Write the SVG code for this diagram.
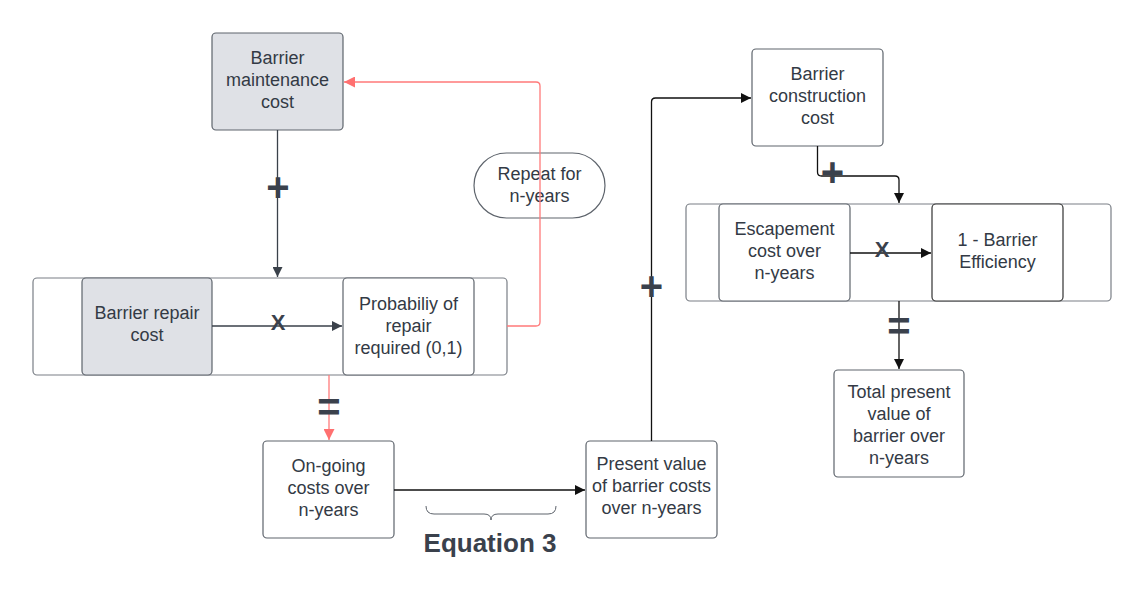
<svg xmlns="http://www.w3.org/2000/svg" width="1145" height="604" viewBox="0 0 1145 604">
<style>
.box{fill:#ffffff;stroke:#5e646c;stroke-width:1.2}
.gray{fill:#dfe1e6;stroke:#5e646c;stroke-width:1.2}
.lane{fill:#ffffff;stroke:#7a7f86;stroke-width:1.2}
.t{font-family:"Liberation Sans",Arial,sans-serif;font-size:18px;fill:#333a45;text-anchor:middle}
.op{font-family:"Liberation Sans",Arial,sans-serif;font-weight:bold;fill:#3a414c;text-anchor:middle}
.c{fill:none;stroke:#3a414a;stroke-width:1.3}
.k{fill:none;stroke:#111111;stroke-width:1.3}
.r{fill:none;stroke:#ff7a7a;stroke-width:1.3}
</style>
<defs>
<marker id="ad" viewBox="0 0 10 10" refX="10" refY="5" markerWidth="10" markerHeight="10" markerUnits="userSpaceOnUse" orient="auto"><path d="M0,0 L10,5 L0,10 z" fill="#3a414a"/></marker>
<marker id="ak" viewBox="0 0 10 10" refX="10" refY="5" markerWidth="10" markerHeight="10" markerUnits="userSpaceOnUse" orient="auto"><path d="M0,0 L10,5 L0,10 z" fill="#111111"/></marker>
<marker id="ar" viewBox="0 0 10 10" refX="10" refY="5" markerWidth="11" markerHeight="11" markerUnits="userSpaceOnUse" orient="auto"><path d="M0,0 L10,5 L0,10 z" fill="#ff7070"/></marker>
</defs>
<rect width="1145" height="604" fill="#ffffff"/>

<g id="lane1"><rect class="lane" x="33" y="278" width="474" height="97" rx="4"/></g>
<g id="lane2"><rect class="lane" x="686" y="204" width="425" height="97" rx="4"/></g>

<g id="n-maintenance"><rect class="gray" x="212" y="33" width="131" height="97" rx="4"/>
<text class="t" x="277.5" y="64">Barrier</text><text class="t" x="277.5" y="86">maintenance</text><text class="t" x="277.5" y="108">cost</text></g>

<g id="n-repair"><rect class="gray" x="82" y="278" width="130" height="97" rx="4"/>
<text class="t" x="147" y="319">Barrier repair</text><text class="t" x="147" y="341">cost</text></g>

<g id="n-prob"><rect class="box" x="343" y="278" width="131" height="97" rx="4"/>
<text class="t" x="408.5" y="310">Probabiliy of</text><text class="t" x="408.5" y="332">repair</text><text class="t" x="408.5" y="354">required (0,1)</text></g>

<g id="n-repeat"><rect class="box" x="474" y="153" width="131" height="65" rx="32.5"/>
<text class="t" x="539.5" y="180">Repeat for</text><text class="t" x="539.5" y="202">n-years</text></g>

<g id="n-ongoing"><rect class="box" x="263" y="441" width="131" height="97" rx="4"/>
<text class="t" x="328.5" y="472">On-going</text><text class="t" x="328.5" y="494">costs over</text><text class="t" x="328.5" y="516">n-years</text></g>

<g id="n-present"><rect class="box" x="586" y="441" width="131" height="97" rx="4"/>
<text class="t" x="651.5" y="470">Present value</text><text class="t" x="651.5" y="492">of barrier costs</text><text class="t" x="651.5" y="514">over n-years</text></g>

<g id="n-construction"><rect class="box" x="752" y="49" width="131" height="97" rx="4"/>
<text class="t" x="817.5" y="80">Barrier</text><text class="t" x="817.5" y="102">construction</text><text class="t" x="817.5" y="124">cost</text></g>

<g id="n-escapement"><rect class="box" x="719" y="204" width="131" height="97" rx="4"/>
<text class="t" x="784.5" y="235">Escapement</text><text class="t" x="784.5" y="257">cost over</text><text class="t" x="784.5" y="279">n-years</text></g>

<g id="n-efficiency"><rect class="box" x="932" y="204" width="131" height="97" rx="4" style="stroke:#333"/>
<text class="t" x="997.5" y="246">1 - Barrier</text><text class="t" x="997.5" y="268">Efficiency</text></g>

<g id="n-total"><rect class="box" x="834" y="370" width="130" height="107" rx="4"/>
<text class="t" x="899" y="398">Total present</text><text class="t" x="899" y="420">value of</text><text class="t" x="899" y="442">barrier over</text><text class="t" x="899" y="464">n-years</text></g>

<g id="connectors">
<path class="c" d="M277.5,130 V277" marker-end="url(#ad)"/>
<path class="c" d="M212,326 H342" marker-end="url(#ad)"/>
<path class="r" d="M507,326 H536 Q540,326 540,322 V86 Q540,82 536,82 H344" marker-end="url(#ar)"/>
<path class="r" d="M329,375 V440" marker-end="url(#ar)"/>
<path class="k" d="M394,490 H585" marker-end="url(#ak)"/>
<path class="k" d="M651.5,441 V102 Q651.5,98 655.5,98 H751" marker-end="url(#ak)"/>
<path class="k" d="M817.5,146 V172 Q817.5,176 821.5,176 H895 Q899,176 899,180 V203" marker-end="url(#ak)"/>
<path class="k" d="M899,301 V369" marker-end="url(#ak)"/>
<path class="k" d="M850,253 H931" marker-end="url(#ak)"/>
<path fill="none" stroke="#5e646c" stroke-width="1" d="M426,506 Q426,514 434,514 H484 Q491,514 491,520 Q491,514 498,514 H548 Q556,514 556,506"/>
</g>

<g id="labels">
<text class="op" x="278" y="201" font-size="40">+</text>
<text class="op" x="278" y="330" font-size="22">X</text>
<text class="op" x="329" y="421" font-size="40">=</text>
<text class="op" x="651.5" y="300" font-size="40">+</text>
<text class="op" x="832.5" y="186" font-size="40">+</text>
<text class="op" x="882" y="257" font-size="22">X</text>
<text class="op" x="899" y="340" font-size="40">=</text>
<text class="op" x="490" y="552" font-size="26">Equation 3</text>
</g>
</svg>
